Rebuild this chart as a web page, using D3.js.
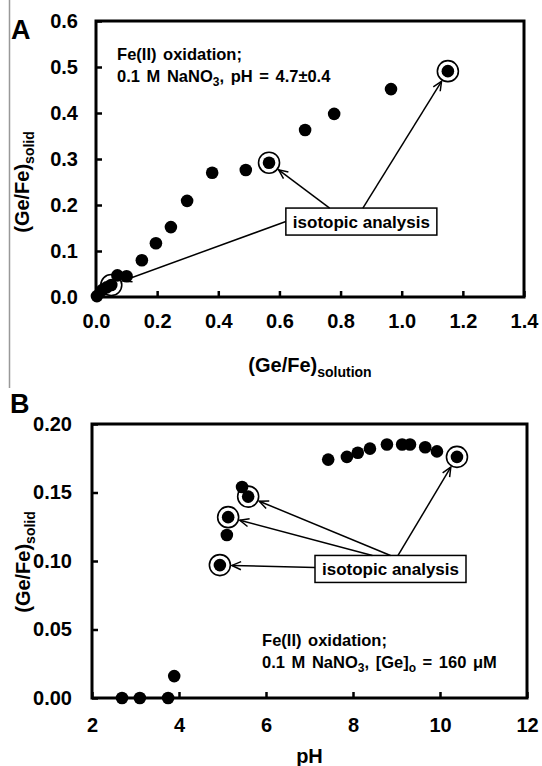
<!DOCTYPE html>
<html>
<head>
<meta charset="utf-8">
<script src="https://cdn.jsdelivr.net/npm/d3@7"></script>
<style>
body { margin: 0; background: #fff; }
svg text { font-family: "Liberation Sans", Arial, sans-serif; font-weight: bold; fill: #000; }
</style>
</head>
<body>
<div id="chart"></div>
<script>
// ---- panel A data: (Ge/Fe)solid vs (Ge/Fe)solution
const aSolution = [0.003, 0.02, 0.035, 0.05, 0.07, 0.10, 0.15, 0.196, 0.245, 0.298, 0.38, 0.49, 0.566, 0.684, 0.779, 0.965, 1.151]
const aSolid    = [0.002, 0.015, 0.021, 0.026, 0.047, 0.045, 0.08, 0.117, 0.152, 0.209, 0.27, 0.276, 0.292, 0.363, 0.398, 0.452, 0.491]
const aIsotope  = [0, 0, 0, 1, 0, 0, 0, 0, 0, 0, 0, 0, 1, 0, 0, 0, 1]
const aXTicks = [0, 0.2, 0.4, 0.6, 0.8, 1.0, 1.2, 1.4]
const aYTicks = [0, 0.1, 0.2, 0.3, 0.4, 0.5, 0.6]

// ---- panel B data: (Ge/Fe)solid vs pH
const bPH    = [2.69, 3.10, 3.75, 3.89, 4.94, 5.10, 5.13, 5.45, 5.59, 7.43, 7.86, 8.11, 8.39, 8.78, 9.13, 9.31, 9.66, 9.93, 10.39]
const bSolid = [0, 0, 0, 0.016, 0.097, 0.119, 0.132, 0.154, 0.147, 0.174, 0.176, 0.179, 0.182, 0.185, 0.185, 0.185, 0.183, 0.180, 0.176]
const bIsotope = [0, 0, 0, 0, 1, 0, 1, 0, 1, 0, 0, 0, 0, 0, 0, 0, 0, 0, 1]
const bXTicks = [2, 4, 6, 8, 10, 12]
const bYTicks = [0, 0.05, 0.10, 0.15, 0.20]

const W = 542, H = 766

const svg = d3.select("#chart").append("svg")
    .attr("width", W)
    .attr("height", H)

// the thin grey edge line on the left of the original scan
svg.append("line")
    .attr("x1", 9.5).attr("x2", 9.5).attr("y1", 0).attr("y2", 388)
    .attr("stroke", "#999").attr("stroke-width", 1.5)

function drawArrow(g, x1, y1, x2, y2) {
  g.append("line")
    .attr("x1", x1).attr("y1", y1).attr("x2", x2).attr("y2", y2)
    .attr("stroke", "#000").attr("stroke-width", 1.5)
  const ang = Math.atan2(y2 - y1, x2 - x1), len = 10, spread = 0.42
  const pts = [
    [x2 - len * Math.cos(ang - spread), y2 - len * Math.sin(ang - spread)],
    [x2, y2],
    [x2 - len * Math.cos(ang + spread), y2 - len * Math.sin(ang + spread)]
  ]
  g.append("path")
    .attr("d", d3.line()(pts))
    .attr("fill", "none").attr("stroke", "#000").attr("stroke-width", 1.5)
}

function panel(o) {
  const g = svg.append("g")
  const x = d3.scaleLinear().domain(o.xDomain).range(o.xRange)
  const y = d3.scaleLinear().domain(o.yDomain).range(o.yRange)

  // axes, ticks pointing inward
  const xAxis = g.append("g")
      .attr("transform", `translate(0,${o.yRange[0]})`)
      .call(d3.axisBottom(x).tickValues(o.xTicks).tickFormat(o.xFmt).tickSize(-6).tickPadding(o.xPad))
  const yAxis = g.append("g")
      .attr("transform", `translate(${o.xRange[0]},0)`)
      .call(d3.axisLeft(y).tickValues(o.yTicks).tickFormat(o.yFmt).tickSize(-6).tickPadding(o.yPad))
  ;[xAxis, yAxis].forEach(a => {
    a.select(".domain").remove()
    a.selectAll(".tick line").attr("stroke", "#000").attr("stroke-width", 2.5)
    a.selectAll(".tick text").attr("font-size", 20)
  })
  g.append("rect")
    .attr("x", o.xRange[0]).attr("y", o.yRange[1])
    .attr("width", o.xRange[1] - o.xRange[0])
    .attr("height", o.yRange[0] - o.yRange[1])
    .attr("fill", "none").attr("stroke", "#000").attr("stroke-width", 3)

  // points
  const pts = o.xs.map((v, i) => ({x: x(v), y: y(o.ys[i]), iso: o.iso[i]}))
  g.selectAll(".ring").data(pts.filter(d => d.iso)).enter()
    .append("circle")
    .attr("cx", d => d.x).attr("cy", d => d.y).attr("r", 10.5)
    .attr("fill", "none").attr("stroke", "#000").attr("stroke-width", 1.6)
  g.selectAll(".dot").data(pts).enter()
    .append("circle")
    .attr("cx", d => d.x).attr("cy", d => d.y).attr("r", 6.3)
    .attr("fill", "#000")

  // "isotopic analysis" box
  const bx = x(o.box[0]), by = y(o.box[1])
  const boxRect = g.append("rect")
  const label = g.append("text")
    .attr("x", bx).attr("y", by).attr("dy", "0.35em")
    .attr("text-anchor", "middle").attr("font-size", 17)
    .text("isotopic analysis")
  const tw = label.node().getComputedTextLength()
  const bw = tw + 14, bh = 27
  boxRect
    .attr("x", bx - bw / 2).attr("y", by - bh / 2)
    .attr("width", bw).attr("height", bh)
    .attr("fill", "#fff").attr("stroke", "#000").attr("stroke-width", 1.5)

  o.arrows.forEach(a => {
    const [side, f, idx] = a
    const sx = side === "left" ? bx - bw / 2 : bx - bw / 2 + f * bw
    const sy = side === "left" ? by - bh / 2 + f * bh : by - bh / 2
    const p = pts[idx]
    const d = Math.hypot(p.x - sx, p.y - sy), gap = 12
    drawArrow(g, sx, sy, p.x - (p.x - sx) / d * gap, p.y - (p.y - sy) / d * gap)
  })

  // condition notes
  const note = g.append("text")
    .attr("x", x(o.note[0])).attr("y", y(o.note[1]))
    .attr("font-size", 16.5).attr("word-spacing", 2)
  note.append("tspan").text("Fe(II) oxidation;")
  o.noteLine2(note.append("tspan").attr("x", x(o.note[0])).attr("dy", 22))

  // axis titles
  const xt = g.append("text")
      .attr("x", (o.xRange[0] + o.xRange[1]) / 2).attr("y", o.xTitleY)
      .attr("text-anchor", "middle").attr("font-size", 20)
  o.xTitle(xt)
  const yt = g.append("text")
      .attr("transform", `translate(${o.yTitleX},${o.yTitleY}) rotate(-90)`)
      .attr("text-anchor", "middle").attr("font-size", 20)
  yt.append("tspan").text("(Ge/Fe)")
  yt.append("tspan").attr("font-size", 14).attr("dy", 5).text("solid")

  g.append("text")
    .attr("x", o.letter[0]).attr("y", o.letter[1])
    .attr("font-size", 27)
    .text(o.letterText)
}

panel({
  xs: aSolution, ys: aSolid, iso: aIsotope,
  xDomain: [0, 1.4], xRange: [96, 524],
  yDomain: [0, 0.6], yRange: [297, 21],
  xTicks: aXTicks, yTicks: aYTicks,
  xFmt: d3.format(".1f"), yFmt: d3.format(".1f"),
  xPad: 17, yPad: 18,
  box: [0.868, 0.164],
  arrows: [["left", 0.5, 3], ["top", 0.29, 12], ["top", 0.51, 16]],
  note: [0.069, 0.515],
  noteLine2: t => {
    t.append("tspan").text("0.1 M NaNO")
    t.append("tspan").attr("font-size", 12).attr("dy", 4).text("3")
    t.append("tspan").attr("dy", -4).text(",  pH = 4.7±0.4")
  },
  xTitleY: 372,
  xTitle: t => {
    t.append("tspan").text("(Ge/Fe)")
    t.append("tspan").attr("font-size", 14).attr("dy", 5).text("solution")
  },
  yTitleX: 29, yTitleY: 182,
  letter: [11, 39], letterText: "A"
})

panel({
  xs: bPH, ys: bSolid, iso: bIsotope,
  xDomain: [2, 12], xRange: [92, 527],
  yDomain: [0, 0.2], yRange: [698, 424],
  xTicks: bXTicks, yTicks: bYTicks,
  xFmt: d3.format("d"), yFmt: d3.format(".2f"),
  xPad: 20, yPad: 20,
  box: [8.862, 0.0942],
  arrows: [["left", 0.45, 4], ["top", 0.38, 6], ["top", 0.5, 8], ["top", 0.55, 18]],
  note: [5.91, 0.038],
  noteLine2: t => {
    t.append("tspan").text("0.1 M NaNO")
    t.append("tspan").attr("font-size", 12).attr("dy", 4).text("3")
    t.append("tspan").attr("dy", -4).text(",  [Ge]")
    t.append("tspan").attr("font-size", 12).attr("dy", 4).text("o")
    t.append("tspan").attr("dy", -4).text(" = 160 μM")
  },
  xTitleY: 763,
  xTitle: t => t.text("pH"),
  yTitleX: 30, yTitleY: 562,
  letter: [10, 413], letterText: "B"
})
</script>
</body>
</html>
